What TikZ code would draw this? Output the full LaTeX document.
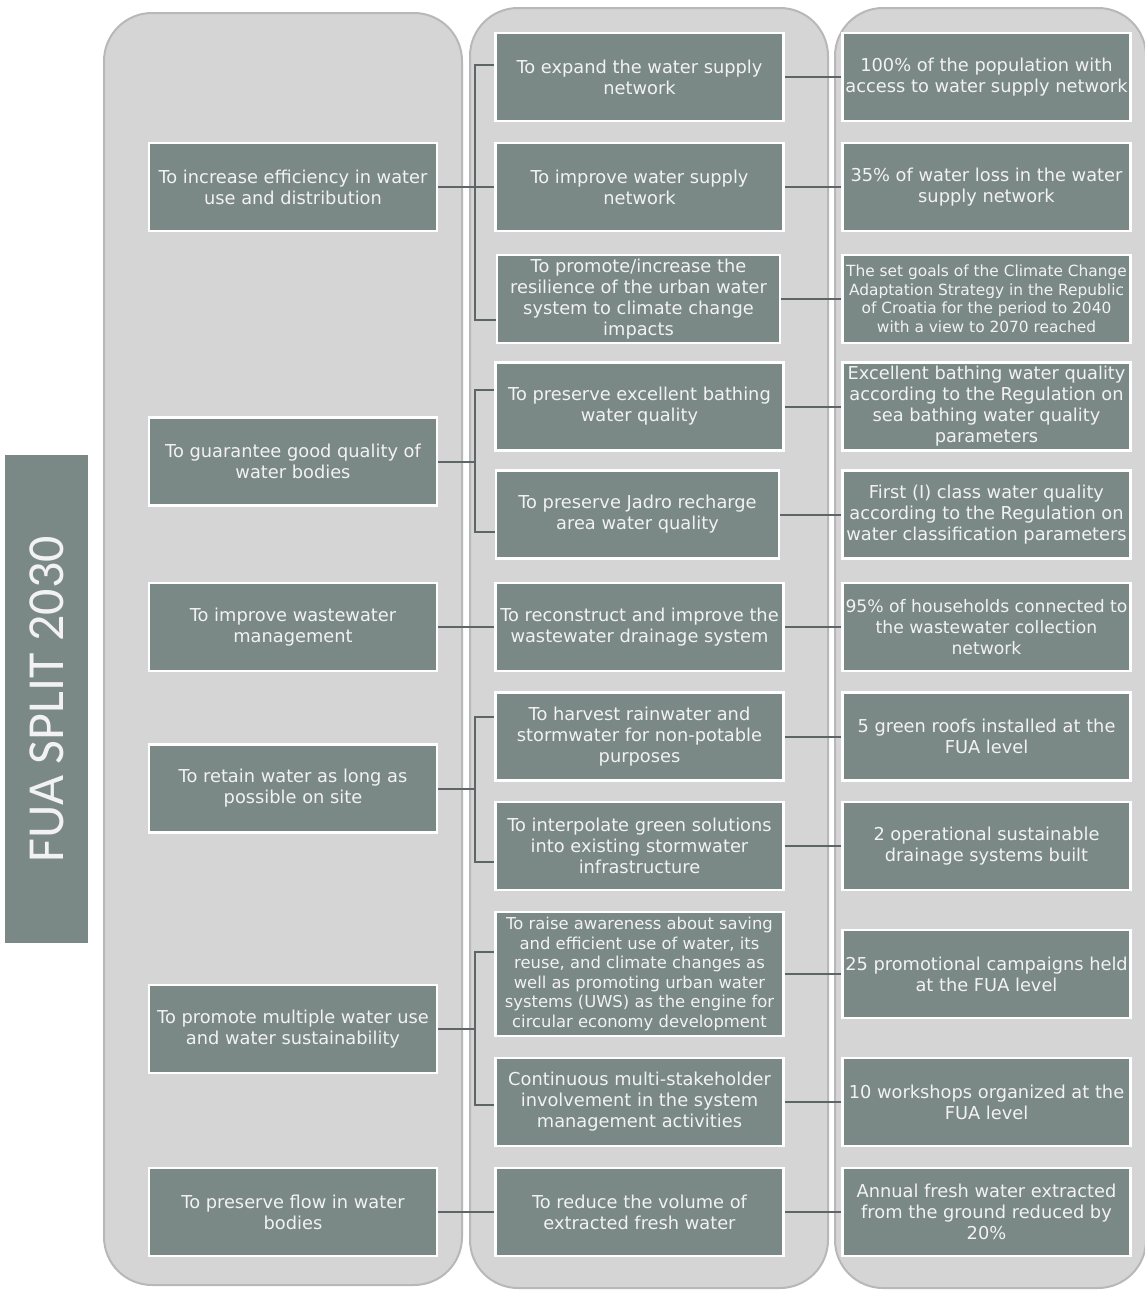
\documentclass[tikz,border=0pt]{standalone}
\usepackage{fontspec}
\setmainfont{DejaVu Sans}
\newfontfamily\titlefont{Carlito}
\usetikzlibrary{calc}
\definecolor{boxfill}{RGB}{122,136,134}
\definecolor{panelfill}{RGB}{213,213,213}
\definecolor{paneldraw}{RGB}{184,184,184}
\definecolor{linecol}{RGB}{92,102,102}
\definecolor{txt}{RGB}{242,242,242}
\pgfdeclarelayer{bg}
\pgfdeclarelayer{bbg}
\pgfsetlayers{bbg,bg,main}
\begin{document}
\begin{tikzpicture}[x=1pt,y=-1pt,
  box/.style={draw=white, line width=2.5pt, fill=boxfill, text=txt, align=center,
    minimum width=288pt, minimum height=88pt, inner sep=0pt,
    font=\fontsize{17.8}{21}\selectfont},
  panel/.style={fill=panelfill, draw=paneldraw, line width=2pt, rounded corners=48pt},
  conn/.style={draw=linecol, line width=2pt}]
\useasboundingbox (0,0) rectangle (1145,1291);
\clip (0,0) rectangle (1145,1291);

% title
\node[fill=boxfill, minimum width=83pt, minimum height=488pt, inner sep=0pt] (T) at (46.5,699) {};
\node[rotate=90, text=txt, font=\titlefont\fontsize{52}{52}\selectfont] (Tt) at (46.5,699) {FUA SPLIT 2030};

% left column
\node[box] (L1) at (293,187) {To increase efficiency in water\\use and distribution};
\node[box] (L2) at (293,461.5) {To guarantee good quality of\\water bodies};
\node[box] (L3) at (293,627) {To improve wastewater\\management};
\node[box] (L4) at (293,788.5) {To retain water as long as\\possible on site};
\node[box] (L5) at (293,1029) {To promote multiple water use\\and water sustainability};
\node[box] (L6) at (293,1212) {To preserve flow in water\\bodies};

% middle column
\node[box] (M1) at (639.5,77) {To expand the water supply\\network};
\node[box] (M2) at (639.5,187) {To improve water supply\\network};
\node[box, minimum width=283pt] (M3) at (638.5,299) {To promote/increase the\\resilience of the urban water\\system to climate change\\impacts};
\node[box] (M4) at (639.5,406.5) {To preserve excellent bathing\\water quality};
\node[box, minimum width=283pt] (M5) at (637.5,514.5) {To preserve Jadro recharge\\area water quality};
\node[box] (M6) at (639.5,627) {To reconstruct and improve the\\wastewater drainage system};
\node[box] (M7) at (639.5,736.5) {To harvest rainwater and\\stormwater for non-potable\\purposes};
\node[box] (M8) at (639.5,846) {To interpolate green solutions\\into existing stormwater\\infrastructure};
\node[box, minimum height=124pt, font=\fontsize{16.4}{19.5}\selectfont] (M9) at (639.5,974) {To raise awareness about saving\\and efficient use of water, its\\reuse, and climate changes as\\well as promoting urban water\\systems (UWS) as the engine for\\circular economy development};
\node[box] (M10) at (639.5,1102) {Continuous multi-stakeholder\\involvement in the system\\management activities};
\node[box] (M11) at (639.5,1212) {To reduce the volume of\\extracted fresh water};

% right column
\node[box] (R1) at (986.5,77) {100\% of the population with\\access to water supply network};
\node[box] (R2) at (986.5,187) {35\% of water loss in the water\\supply network};
\node[box, font=\fontsize{15.4}{18.5}\selectfont] (R3) at (986.5,299) {The set goals of the Climate Change\\Adaptation Strategy in the Republic\\of Croatia for the period to 2040\\with a view to 2070 reached};
\node[box] (R4) at (986.5,406.5) {Excellent bathing water quality\\according to the Regulation on\\sea bathing water quality\\parameters};
\node[box] (R5) at (986.5,514.5) {First (I) class water quality\\according to the Regulation on\\water classification parameters};
\node[box, font=\fontsize{17.2}{21}\selectfont] (R6) at (986.5,627) {95\% of households connected to\\the wastewater collection\\network};
\node[box] (R7) at (986.5,736.5) {5 green roofs installed at the\\FUA level};
\node[box] (R8) at (986.5,846) {2 operational sustainable\\drainage systems built};
\node[box] (R9) at (986.5,974) {25 promotional campaigns held\\at the FUA level};
\node[box] (R10) at (986.5,1102) {10 workshops organized at the\\FUA level};
\node[box] (R11) at (986.5,1212) {Annual fresh water extracted\\from the ground reduced by\\20\%};

\begin{pgfonlayer}{bbg}
\draw[panel] (104,13) rectangle (462,1285);
\draw[panel] (470,8) rectangle (828,1288);
\draw[panel] (835,8) rectangle (1146,1288);
\end{pgfonlayer}

\begin{pgfonlayer}{bg}
\coordinate (b1) at (475,0);
% L1 group
\draw[conn] (L1.east) -- (M2.west);
\draw[conn] (M1.west |- 0,65) -- (b1 |- 0,65) -- (b1 |- 0,320) -- (M3.west |- 0,320);
% L2 group
\draw[conn] (L2.east) -- (b1 |- L2.east);
\draw[conn] (M4.west |- 0,390) -- (b1 |- 0,390) -- (b1 |- 0,532) -- (M5.west |- 0,532);
% L3
\draw[conn] (L3.east) -- (M6.west);
% L4 group
\draw[conn] (L4.east) -- (b1 |- L4.east);
\draw[conn] (M7.west |- 0,717) -- (b1 |- 0,717) -- (b1 |- 0,862) -- (M8.west |- 0,862);
% L5 group
\draw[conn] (L5.east) -- (b1 |- L5.east);
\draw[conn] (M9.west |- 0,952) -- (b1 |- 0,952) -- (b1 |- 0,1105) -- (M10.west |- 0,1105);
% L6
\draw[conn] (L6.east) -- (M11.west);
% middle to right
\foreach \i in {1,...,11} {\draw[conn] (M\i.east) -- (R\i.west);}
\end{pgfonlayer}
\end{tikzpicture}
\end{document}
